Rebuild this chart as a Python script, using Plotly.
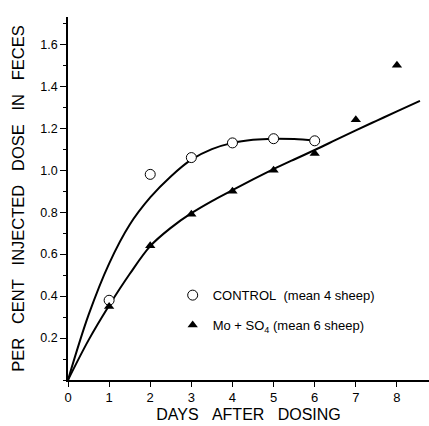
import plotly.graph_objects as go

# Observed means
days = [1, 2, 3, 4, 5, 6]
control = [0.38, 0.98, 1.06, 1.13, 1.15, 1.14]
days_mo = [1, 2, 3, 4, 5, 6, 7, 8]
mo_so4 = [0.35, 0.64, 0.79, 0.90, 1.00, 1.08, 1.24, 1.50]

# Hand-drawn fitted curves
ctrl_curve_x = [0, 0.5, 1, 1.5, 2, 2.5, 3, 3.5, 4, 4.5, 5, 5.5, 6]
ctrl_curve_y = [0.0, 0.31, 0.555, 0.74, 0.87, 0.97, 1.05, 1.10, 1.13, 1.145, 1.15, 1.148, 1.14]
mo_curve_x = [0, 0.5, 1, 1.5, 2, 2.5, 3, 3.5, 4, 4.5, 5, 5.5, 6, 6.5, 7, 7.5, 8, 8.56]
mo_curve_y = [0.0, 0.19, 0.355, 0.505, 0.638, 0.725, 0.795, 0.853, 0.905, 0.956, 1.005,
              1.051, 1.096, 1.143, 1.19, 1.235, 1.28, 1.33]

x_ticks = [0, 1, 2, 3, 4, 5, 6, 7, 8]
y_ticks = [0.2, 0.4, 0.6, 0.8, 1.0, 1.2, 1.4, 1.6]
y_tick_text = ["0.2", "0.4", "0.6", "0.8", "1.0", "1.2", "1.4", "1.6"]

FONT = "Liberation Sans, Arial, sans-serif"
SP = "\u00a0\u00a0\u00a0"

fig = go.Figure()
fig.add_trace(go.Scatter(x=ctrl_curve_x, y=ctrl_curve_y, mode="lines",
                         line=dict(color="black", width=2, shape="spline", smoothing=1),
                         showlegend=False, hoverinfo="skip"))
fig.add_trace(go.Scatter(x=mo_curve_x, y=mo_curve_y, mode="lines",
                         line=dict(color="black", width=2, shape="spline", smoothing=1),
                         showlegend=False, hoverinfo="skip"))
fig.add_trace(go.Scatter(x=days, y=control, mode="markers",
                         name="CONTROL\u00a0\u00a0(mean\u00a04\u00a0sheep)", legendgroup="a",
                         marker=dict(symbol="circle", size=10, color="white",
                                     line=dict(color="black", width=1))))
fig.add_trace(go.Scatter(x=days_mo, y=mo_so4, mode="markers",
                         name="Mo + SO<sub>4</sub> (mean\u00a06\u00a0sheep)", legendgroup="b",
                         marker=dict(symbol="triangle-up", size=9, color="black",
                                     line=dict(color="black", width=0))))

fig.update_layout(
    width=429, height=426,
    margin=dict(l=68, r=0, t=17, b=46),
    paper_bgcolor="white", plot_bgcolor="white",
    font=dict(family=FONT, color="black", size=12),
    legend=dict(x=0.29, y=0.275, xanchor="left", yanchor="top",
                traceorder="grouped", tracegroupgap=10,
                bgcolor="rgba(0,0,0,0)", font=dict(size=13, family=FONT)),
    xaxis=dict(range=[0, 8.78], showline=True, linecolor="black", linewidth=1.5,
               showgrid=False, zeroline=False, ticks="outside", ticklen=5,
               tickcolor="black", tickvals=x_ticks, ticktext=[str(v) for v in x_ticks],
               tickfont=dict(size=13),
               title=dict(text="\u00a0" * 5 + SP.join(["DAYS", "AFTER", "DOSING"]),
                          font=dict(size=16), standoff=4)),
    yaxis=dict(range=[0, 1.73], showline=True, linecolor="black", linewidth=1.5,
               showgrid=False, zeroline=False, ticks="outside", ticklen=6,
               tickcolor="black", tickvals=y_ticks, ticktext=y_tick_text,
               tickfont=dict(size=12.5),
               minor=dict(ticks="outside", ticklen=3, dtick=0.1, tick0=0,
                          tickcolor="black", showgrid=False),
               title=dict(text=SP.join(["PER", "CENT", "INJECTED", "DOSE", "IN", "FECES"]),
                          font=dict(size=16.5), standoff=12)),
)

fig.write_html("out.html")
